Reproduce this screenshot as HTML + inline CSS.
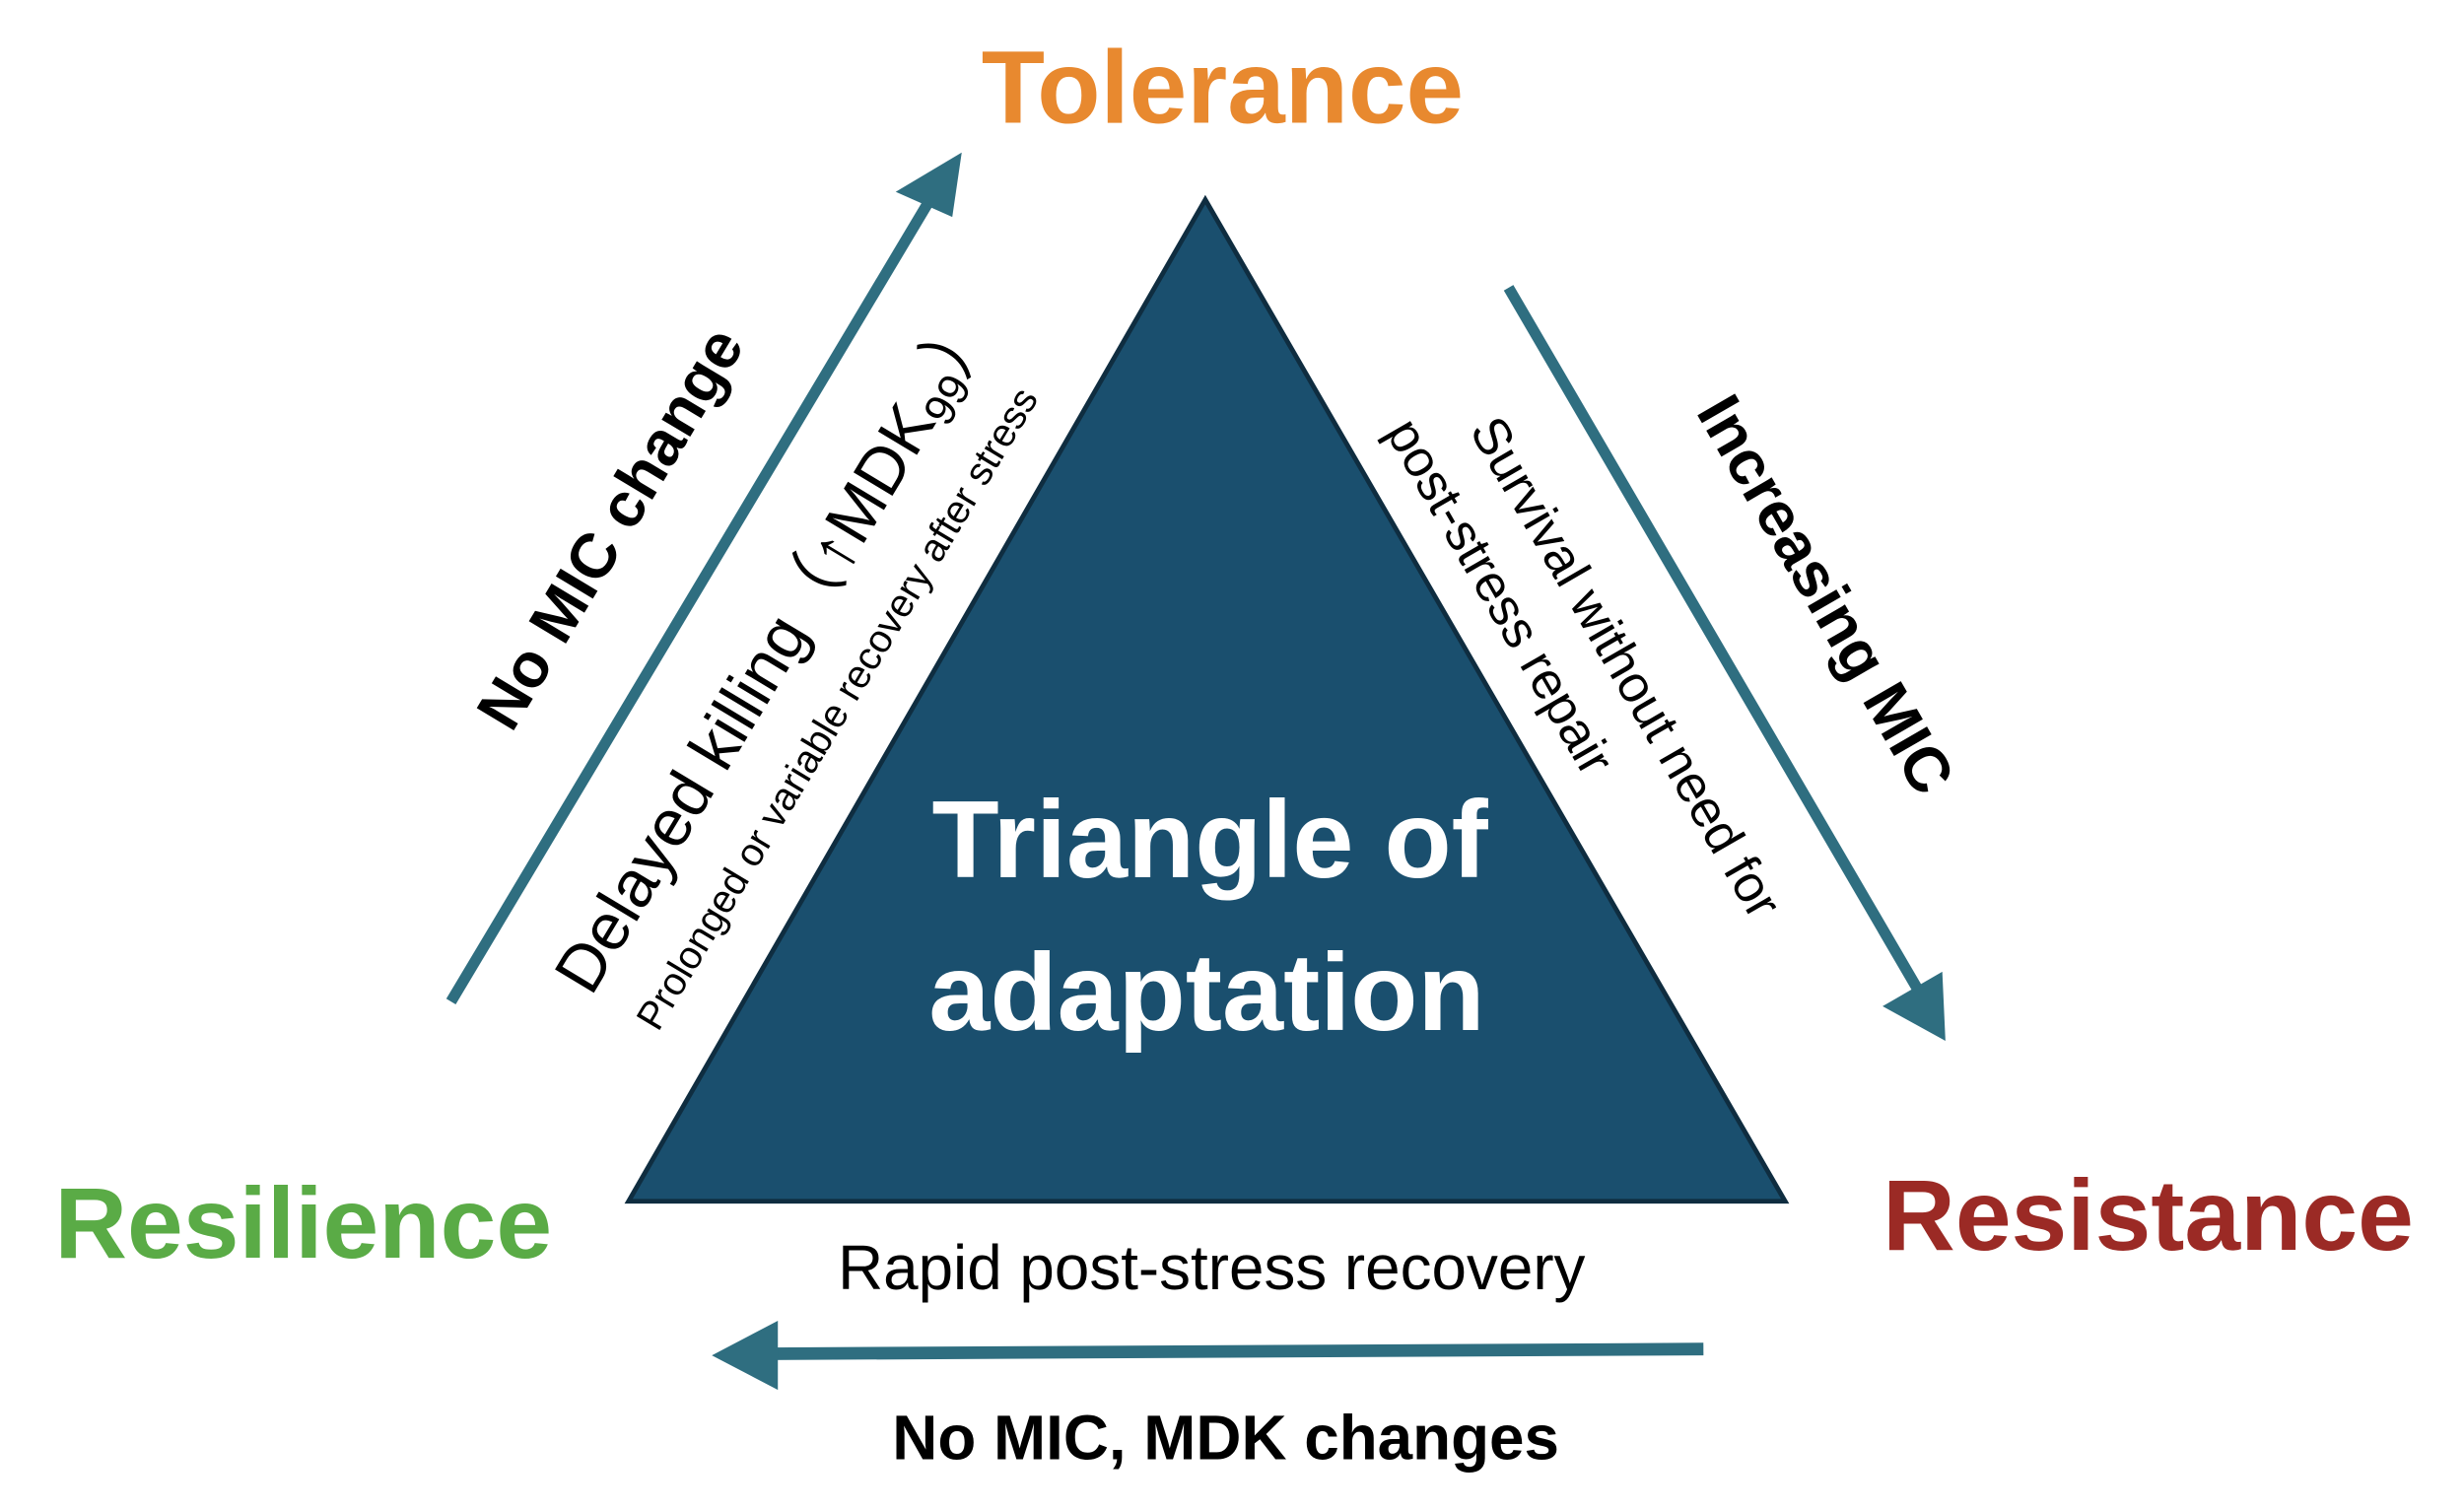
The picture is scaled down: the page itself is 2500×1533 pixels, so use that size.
<!DOCTYPE html>
<html><head><meta charset="utf-8"><style>
html,body{margin:0;padding:0;background:#fff;width:2500px;height:1533px;overflow:hidden}
svg{display:block}
text{font-family:"Liberation Sans",Arial,sans-serif}
</style></head><body>
<svg width="2500" height="1533" viewBox="0 0 1568 961" preserveAspectRatio="none" xmlns="http://www.w3.org/2000/svg">
<polygon points="767,127 400,764 1136,764" fill="#1a4f6e" stroke="#0f2d40" stroke-width="3"/>
<text x="778" y="78" text-anchor="middle" font-size="66" font-weight="bold" fill="#e8892f">Tolerance</text>
<text x="193" y="800" text-anchor="middle" font-size="64" font-weight="bold" fill="#5aab46">Resilience</text>
<text x="1367" y="795" text-anchor="middle" font-size="64" font-weight="bold" fill="#9b2a25">Resistance</text>
<text x="770" y="558" text-anchor="middle" font-size="70" font-weight="bold" fill="#fff">Triangle of</text>
<text x="768" y="655" text-anchor="middle" font-size="70" font-weight="bold" fill="#fff">adaptation</text>
<!-- left arrow -->
<line x1="287" y1="637" x2="596" y2="120" stroke="#2f6e80" stroke-width="7"/>
<polygon points="612,97 570,122 606,138" fill="#2f6e80"/>
<!-- right arrow -->
<line x1="960" y1="183" x2="1222" y2="632" stroke="#2f6e80" stroke-width="7"/>
<polygon points="1238,662 1198,640 1236,618" fill="#2f6e80"/>
<!-- bottom arrow -->
<line x1="1084" y1="858" x2="490" y2="861" stroke="#2f6e80" stroke-width="8"/>
<polygon points="453,862 495,840 495,884" fill="#2f6e80"/>
<g transform="translate(400,343) rotate(-59)"><text text-anchor="middle" font-size="40" font-weight="bold" fill="#000">No MIC change</text></g>
<g transform="translate(505,420) rotate(-59)"><text text-anchor="middle" font-size="42" fill="#000">Delayed killing（↑MDK<tspan font-size="28" dy="8">99</tspan><tspan dy="-8">）</tspan></text></g>
<g transform="translate(540,455) rotate(-59)"><text text-anchor="middle" font-size="25" fill="#000">Prolonged or variable recovery after stress</text></g>
<g transform="translate(1150,385) rotate(60)"><text text-anchor="middle" font-size="40" font-weight="bold" fill="#000">Increasing MIC</text></g>
<g transform="translate(1025,430) rotate(60)"><text text-anchor="middle" font-size="33" fill="#000">Survival without need for</text></g>
<g transform="translate(945,385) rotate(60)"><text text-anchor="middle" font-size="33" fill="#000">post-stress repair</text></g>
<text x="771" y="820" text-anchor="middle" font-size="40" fill="#000">Rapid post-stress recovery</text>
<text x="780" y="928" text-anchor="middle" font-size="40" font-weight="bold" fill="#000">No MIC, MDK changes</text>
</svg>
</body></html>
